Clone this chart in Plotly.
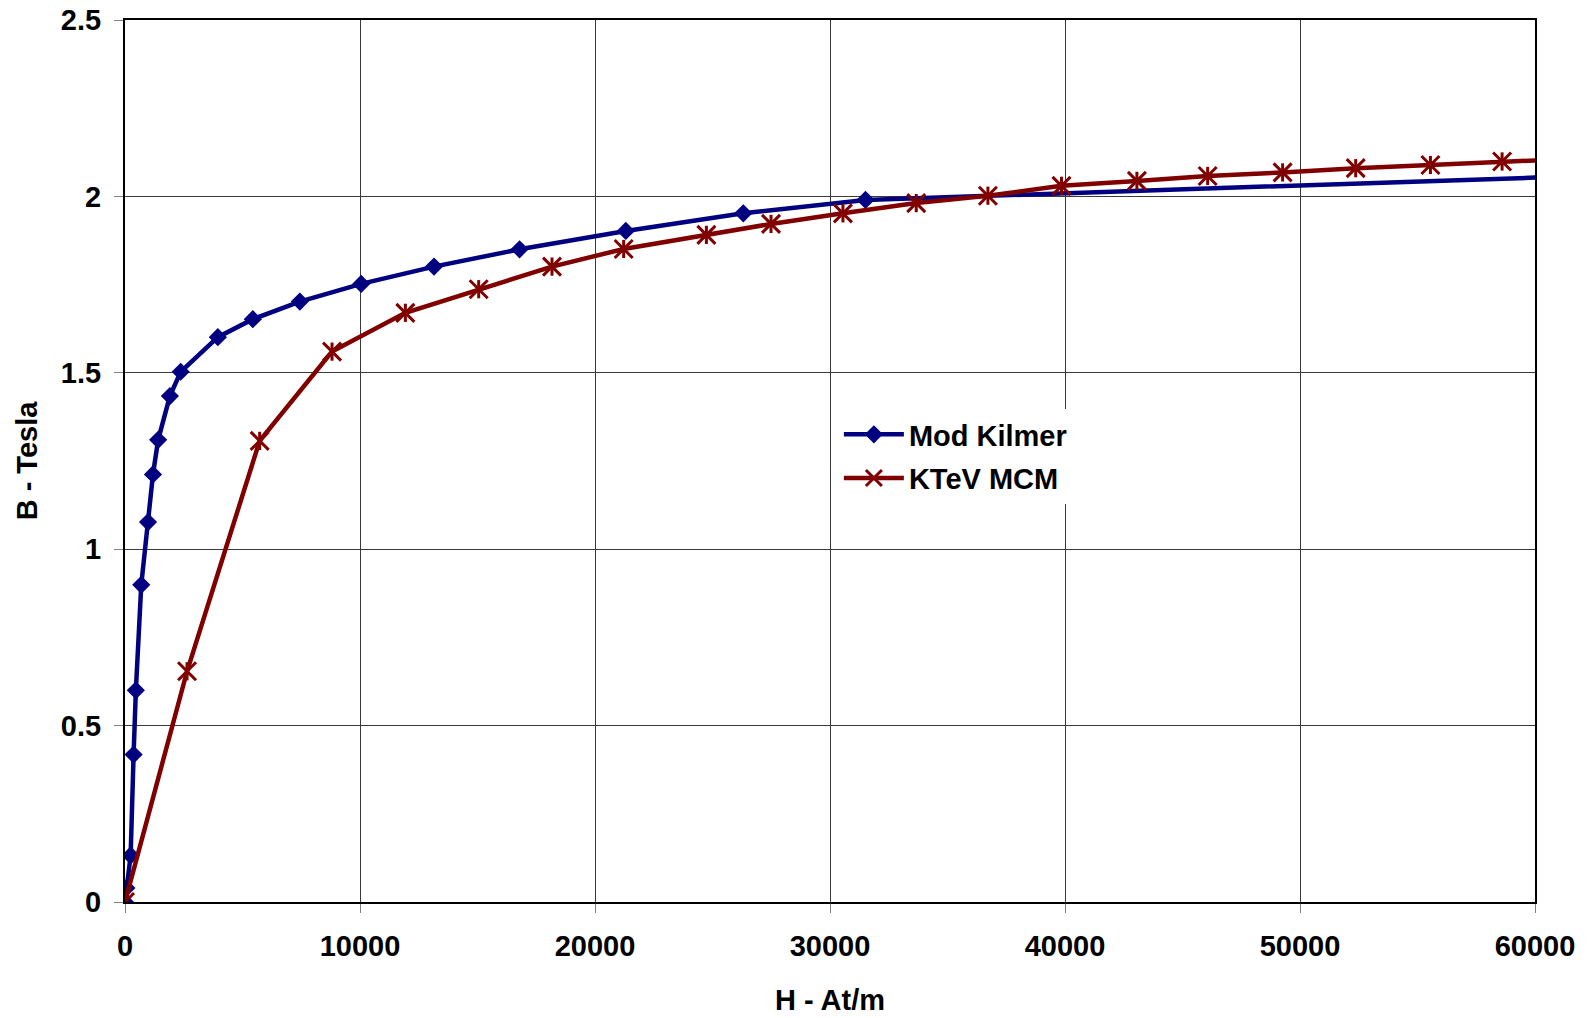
import plotly.graph_objects as go

# Mod Kilmer curve (H in At/m, B in Tesla)
kilmer_H = [0, 60, 240, 366, 462, 692, 980, 1190, 1410, 1910, 2370, 3950, 5440,
            7440, 10050, 13150, 16790, 21310, 26310, 31510, 60300]
kilmer_B = [0, 0.04, 0.132, 0.418, 0.600, 0.899, 1.077, 1.212, 1.310, 1.434, 1.503,
            1.601, 1.652, 1.702, 1.752, 1.801, 1.850, 1.902, 1.952, 1.990, 2.054]

# KTeV MCM curve
ktev_H = [0, 2640, 5730, 8810, 11930, 15050, 18170, 21220, 24740, 27490, 30550,
          33670, 36720, 39850, 43060, 46070, 49260, 52370, 55550, 58600, 61700]
ktev_B = [0, 0.654, 1.307, 1.560, 1.670, 1.737, 1.801, 1.851, 1.891, 1.922, 1.952,
          1.981, 2.002, 2.030, 2.044, 2.058, 2.068, 2.080, 2.089, 2.099, 2.107]

x_ticks = [0, 10000, 20000, 30000, 40000, 50000, 60000]
y_ticks = [0, 0.5, 1, 1.5, 2, 2.5]

BLUE = "#000080"
RED = "#800000"
FONT = "Liberation Sans, Arial, sans-serif"

fig = go.Figure()

fig.add_trace(go.Scatter(
    x=kilmer_H, y=kilmer_B, name="Mod Kilmer", mode="lines+markers",
    line=dict(color=BLUE, width=4.5),
    marker=dict(symbol="diamond", size=14, color=BLUE),
    legendgroup="a",
))
fig.add_trace(go.Scatter(
    x=ktev_H, y=ktev_B, name="KTeV MCM", mode="lines+markers",
    line=dict(color=RED, width=4.5),
    marker=dict(symbol="x-thin-open", size=18, color=RED,
                line=dict(color=RED, width=3)),
    legendgroup="b",
))
fig.add_trace(go.Scatter(
    x=ktev_H, y=ktev_B, mode="markers", showlegend=False, hoverinfo="skip",
    marker=dict(symbol="line-ns-open", size=13, color=RED,
                line=dict(color=RED, width=3)),
))

axis_common = dict(
    showline=True, linecolor="black", linewidth=2, mirror=True,
    showgrid=True, gridcolor="#3a3a3a", gridwidth=1,
    ticks="outside", ticklen=9, tickcolor="#808080", tickwidth=1,
    zeroline=False, ticklabeloverflow="allow",
    tickfont=dict(family=FONT, size=29, color="black", weight="bold"),
)

fig.update_xaxes(
    range=[0, 60000], tickvals=x_ticks, tickformat="d",
    ticklabelstandoff=8,
    title=dict(text="H - At/m", standoff=29,
               font=dict(family=FONT, size=29, color="black", weight="bold")),
    **axis_common,
)
fig.update_yaxes(
    range=[0, 2.5], tickvals=y_ticks,
    ticklabelstandoff=7,
    title=dict(text="B - Tesla", standoff=15,
               font=dict(family=FONT, size=29, color="black", weight="bold")),
    **axis_common,
)

fig.update_layout(
    width=1590, height=1018,
    margin=dict(l=125, r=55, t=20, b=116, autoexpand=False),
    paper_bgcolor="white", plot_bgcolor="white",
    showlegend=True,
    legend=dict(
        x=0.5063, y=0.559, xanchor="left", yanchor="top",
        bgcolor="white", borderwidth=0,
        font=dict(family=FONT, size=29, color="black", weight="bold"),
        tracegroupgap=3, itemwidth=60,
    ),
    font=dict(family=FONT),
)

fig.write_html(
    "out.html",
    config={"displayModeBar": False},
    post_script="document.body.style.margin='0px';document.body.style.overflow='hidden';",
)
